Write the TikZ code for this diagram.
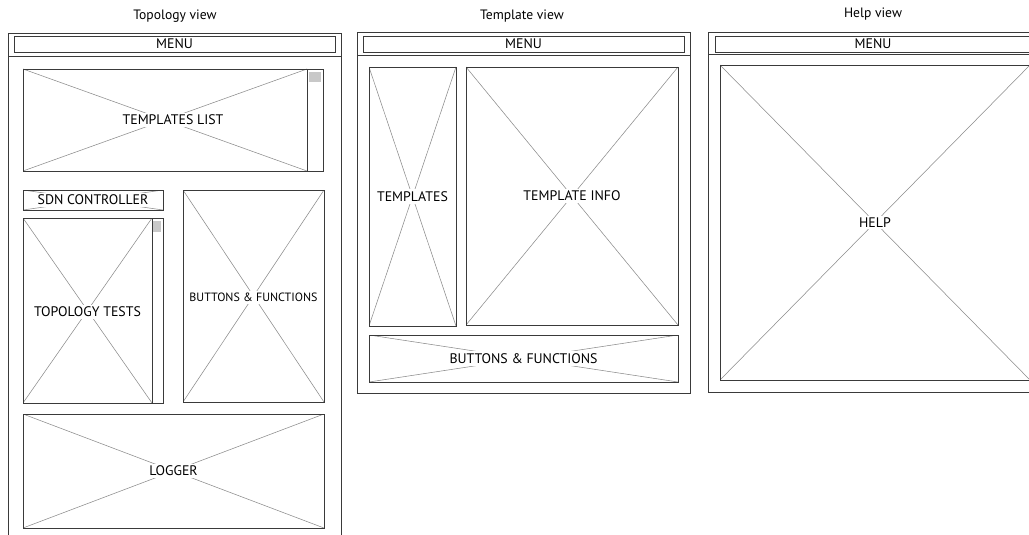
\documentclass[tikz,border=0pt]{standalone}
\usepackage{fontspec}
\setmainfont{PT Sans}
\usetikzlibrary{fit,positioning}
\definecolor{wireline}{HTML}{3A3A3A}
\definecolor{crossline}{HTML}{8A8A8A}
\definecolor{thumbgray}{HTML}{C8C8C8}
\newcommand{\labelfont}{\fontsize{10.4}{12}\selectfont}
\newcommand{\smalllabelfont}{\fontsize{9}{11}\selectfont}
\newcommand{\titlefont}{\fontsize{10.2}{12}\selectfont}
\tikzset{
  frame/.style={
    draw=wireline,
    line width=0.6pt,
    inner sep=0pt
  },
  menubar/.style={
    draw=wireline,
    line width=0.5pt,
    inner sep=0pt
  },
  wire/.style={
    draw=wireline,
    line width=0.5pt,
    inner sep=0pt,
    path picture={
      \draw[crossline,line width=0.4pt]
        (path picture bounding box.north west) -- (path picture bounding box.south east)
        (path picture bounding box.south west) -- (path picture bounding box.north east);
    }
  },
  caption/.style={
    fill=white,
    inner sep=1.5pt,
    font=\labelfont
  },
  scrollbar/.style={
    draw=wireline,
    line width=0.7pt,
    inner sep=0pt
  },
  thumb/.style={
    fill=thumbgray,
    inner sep=0pt
  },
  viewtitle/.style={
    font=\titlefont
  },
  separator/.style={
    draw=wireline,
    line width=0.5pt
  }
}

\begin{document}
\begin{tikzpicture}[x=0.75pt,y=-0.75pt]
\useasboundingbox (0,0) rectangle (1029,535);
\clip (0,0) rectangle (1029,535);
\fill[white] (0,0) rectangle (1029,535);

% topology view
\node[viewtitle] (topotitle) at (175,16) {Topology view};
\node[frame,fit={(8,33) (341,560)}] (topoframe) {};
\node[menubar,fit={(14,36) (335,52)},label={[caption,fill=none]center:MENU}] (topomenu) {};
\draw[separator] (8,56) -- (341,56);
\node[wire,fit={(23,69) (307,171)},label={[caption,xshift=6]center:TEMPLATES LIST}] (tlist) {};
\node[scrollbar,fit={(307,69) (323,171)}] (tlistbar) {};
\node[thumb,fit={(309,72) (321,82)}] (tlistthumb) {};
\node[wire,fit={(23,190) (163,210)},label={[caption]center:SDN CONTROLLER}] (sdn) {};
\node[wire,fit={(23,218) (152,403)},label={[caption,yshift=-1]center:TOPOLOGY TESTS}] (ttests) {};
\node[scrollbar,fit={(152,218) (163,403)}] (ttestsbar) {};
\node[thumb,fit={(153,221) (161,232)}] (tteststhumb) {};
\node[wire,fit={(183,190) (324,402)},label={[caption,font=\smalllabelfont,yshift=-1]center:BUTTONS \& FUNCTIONS}] (tbuttons) {};
\node[wire,fit={(23,414) (324,528)},label={[caption]center:LOGGER}] (logger) {};

% template view
\node[viewtitle] (tmpltitle) at (522,16) {Template view};
\node[frame,fit={(357,32) (690,393)}] (tmplframe) {};
\node[menubar,fit={(363,36) (684,52)},label={[caption,fill=none]center:MENU}] (tmplmenu) {};
\draw[separator] (357,55) -- (690,55);
\node[wire,fit={(369,67) (456,326)},label={[caption]center:TEMPLATES}] (templates) {};
\node[wire,fit={(466,67) (678,325)},label={[caption]center:TEMPLATE INFO}] (tinfo) {};
\node[wire,fit={(369,335) (678,382)},label={[caption]center:BUTTONS \& FUNCTIONS}] (tmplbuttons) {};

% help view
\node[viewtitle] (helptitle) at (873,14) {Help view};
\node[frame,fit={(708,32) (1040,392)}] (helpframe) {};
\node[menubar,fit={(715,36) (1035,52)}] (helpmenu) {};
\node[caption,fill=none] (helpmenutext) at (873,44) {MENU};
\draw[separator] (708,54) -- (1040,54);
\node[wire,fit={(720,65) (1030,380)},label={[caption]center:HELP}] (help) {};
\end{tikzpicture}
\end{document}
